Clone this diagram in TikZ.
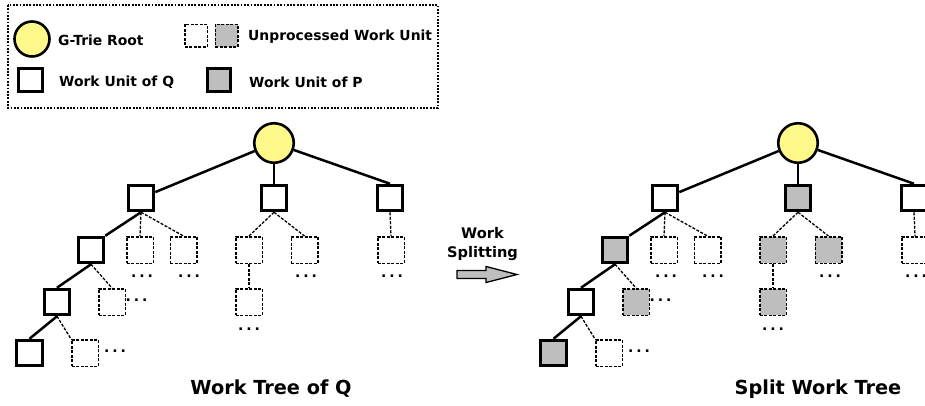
\documentclass[tikz,border=0pt]{standalone}
\usepackage{fontspec}
\setmainfont{DejaVu Sans}
\usetikzlibrary{backgrounds}
\definecolor{rootyel}{HTML}{FFF98C}
\definecolor{pgray}{HTML}{BEBEBE}
\tikzset{
  rootnode/.style={circle,draw,line width=2.6pt,fill=rootyel,inner sep=0pt,minimum size=39.5pt},
  qbox/.style={rectangle,draw,line width=3pt,fill=white,inner sep=0pt,minimum size=25.5pt},
  pbox/.style={qbox,fill=pgray},
  ubox/.style={rectangle,draw,line width=1.5pt,dash pattern=on 3pt off 1.5pt,fill=white,inner sep=0pt,minimum size=26.5pt},
  ugbox/.style={ubox,fill=pgray},
  solidedge/.style={line width=2.5pt},
  dashedge/.style={line width=1.3pt,dash pattern=on 3pt off 1.5pt},
  dotsnode/.style={inner sep=0pt,font=\fontsize{14}{14}\selectfont\bfseries},
  legtext/.style={anchor=west,inner sep=0pt,font=\fontsize{13.9}{15}\selectfont\bfseries},
  titletext/.style={inner sep=0pt,font=\fontsize{19.3}{21}\selectfont\bfseries},
  sB1/.style=qbox, sA2/.style=qbox, sA4/.style=qbox,
  sdb1/.style=ubox, sdb2/.style=ubox, sdb3/.style=ubox, sd2/.style=ubox,
}
\newcommand\dotstext{.\hspace{3pt}.\hspace{3pt}.}
\newcommand\worktree[1]{%
  \node[rootnode] (#1R) at (274,143) {};
  \node[qbox] (#1A1) at (141,198) {};
  \node[sB1] (#1B1) at (274,198) {};
  \node[qbox] (#1C1) at (390,198) {};
  \node[sA2] (#1A2) at (91,250) {};
  \node[qbox] (#1A3) at (57,302) {};
  \node[sA4] (#1A4) at (29.5,353) {};
  \node[ubox] (#1da1) at (140,250) {};
  \node[ubox] (#1da2) at (183.5,250) {};
  \node[sdb1] (#1db1) at (249,250) {};
  \node[sdb2] (#1db2) at (304.5,250) {};
  \node[ubox] (#1dc1) at (391,250) {};
  \node[sdb3] (#1db3) at (249,302) {};
  \node[sd2] (#1d2) at (112,302) {};
  \node[ubox] (#1d3) at (85,353) {};
  \node[dotsnode] (#1t1) at (142,276) {\dotstext};
  \node[dotsnode] (#1t2) at (189,276) {\dotstext};
  \node[dotsnode] (#1t3) at (306,276) {\dotstext};
  \node[dotsnode] (#1t4) at (392,276) {\dotstext};
  \node[dotsnode] (#1t5) at (249,329) {\dotstext};
  \node[dotsnode] (#1t6) at (136.5,300) {\dotstext};
  \node[dotsnode] (#1t7) at (115,351) {\dotstext};
  \begin{scope}[on background layer]
  \draw[solidedge] (#1R) -- (#1A1);
  \draw[solidedge] (#1R) -- (#1B1);
  \draw[solidedge] (#1R) -- (#1C1.north);
  \draw[solidedge] (#1A1.south) -- (#1A2.north east);
  \draw[solidedge] (#1A2.south) -- (#1A3.north);
  \draw[solidedge] (#1A3.south) -- (#1A4.north);
  \draw[dashedge] (#1A1.south) -- (#1da1.north);
  \draw[dashedge] (#1A1.south) -- (#1da2.north);
  \draw[dashedge] (#1B1.south) -- (#1db1.north);
  \draw[dashedge] (#1B1.south) -- (#1db2.north);
  \draw[dashedge] (#1C1.south) -- (#1dc1.north);
  \draw[dashedge] (#1db1.south) -- (#1db3.north);
  \draw[dashedge] (#1A2.south) -- (#1d2.north);
  \draw[dashedge] (#1A3.south) -- (#1d3.north west);
  \end{scope}
}
\begin{document}
\begin{tikzpicture}[x=1pt,y=-1pt]
\useasboundingbox (0,0) rectangle (925,405);
% legend
\draw[line width=1.2pt,dash pattern=on 1.8pt off 1.5pt] (8,5) rectangle (438,108);
\node[rootnode,minimum size=35pt] (legroot) at (32,39) {};
\node[legtext] (legroottxt) at (58,40) {G-Trie Root};
\node[ubox,minimum size=22.5pt] (legu1) at (196,35.5) {};
\node[ugbox,minimum size=22.5pt] (legu2) at (226.5,35.5) {};
\node[legtext] (legutxt) at (248,37) {Unprocessed Work Unit};
\node[qbox,minimum size=23.5pt] (legq) at (30.7,80) {};
\node[legtext] (legqtxt) at (59,82) {Work Unit of Q};
\node[pbox,minimum size=23.5pt] (legp) at (219,80) {};
\node[legtext] (legptxt) at (249,82) {Work Unit of P};
% left tree
\worktree{L}
\node[titletext] (ltitle) at (271,389) {Work Tree of Q};
% splitting label and arrow
\node[inner sep=0pt,align=center,font=\fontsize{14.6}{18.5}\selectfont\bfseries] (split) at (482.5,244) {Work\\Splitting};
\draw[line width=1.3pt,fill=pgray] (457,270.5) -- (486,270.5) -- (486,266.5) -- (517,274.5) -- (486,282.5) -- (486,278.5) -- (457,278.5) -- cycle;
% right tree
\begin{scope}[xshift=524pt, sB1/.style=pbox, sA2/.style=pbox, sA4/.style=pbox,
  sdb1/.style=ugbox, sdb2/.style=ugbox, sdb3/.style=ugbox, sd2/.style=ugbox]
\worktree{S}
\end{scope}
\node[titletext] (rtitle) at (818,389) {Split Work Tree};
\end{tikzpicture}
\end{document}
